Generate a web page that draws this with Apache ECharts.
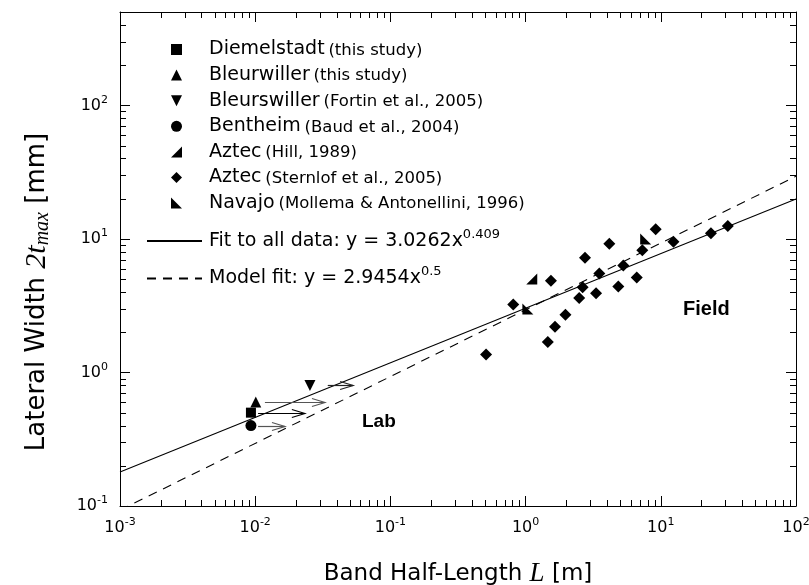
<!DOCTYPE html>
<html>
<head>
<meta charset="utf-8">
<script src="https://cdn.jsdelivr.net/npm/echarts@6/dist/echarts.min.js"></script>
<style>
  html, body { margin: 0; padding: 0; background: #fff; }
  #chart { width: 809px; height: 585px; }
</style>
</head>
<body>
<div id="chart"></div>
<script>
// Axis ranges (log-log)
const xRange = [0.001, 100];
const yRange = [0.1, 500];

// Laboratory specimens: [L (m), 2t_max (mm)]
const diemelstadt = [[0.0093, 0.50]];
const bleurwiller = [[0.0101, 0.60]];
const bleurswiller = [[0.0254, 0.80]];
const bentheim = [[0.0093, 0.40]];

// Lower-bound arrows for lab lengths: [L start, L end, 2t_max, shade]
const labArrows = [
  [0.0105, 0.0233, 0.50, '#000000'],
  [0.0118, 0.0328, 0.60, '#555555'],
  [0.0344, 0.0530, 0.80, '#222222'],
  [0.0105, 0.0166, 0.40, '#555555']
];

// Field observations
const aztecHill = [[1.11, 5.0]];
const aztecSternlof = [
  [0.51, 1.36], [0.81, 3.22], [1.54, 4.87], [1.46, 1.69], [1.65, 2.20],
  [1.97, 2.70], [2.49, 3.61], [2.64, 4.34], [2.75, 7.21], [3.32, 3.91],
  [3.51, 5.50], [4.16, 9.19], [4.85, 4.40], [5.28, 6.31], [6.64, 5.13],
  [7.30, 8.23], [9.17, 11.8], [12.4, 9.51], [23.5, 11.0], [31.3, 12.5]
];
const navajo = [[1.04, 2.99], [7.73, 10.0]];

// Power-law fits, end points across the x range
const fitAll = [[0.001, 0.1795], [100, 19.90]];
const modelFit = [[0.001, 0.0931], [100, 29.45]];

// Log minor tick positions
const xMinorTicks = [];
for (let e = -3; e < 2; e++) for (let m = 2; m <= 9; m++) xMinorTicks.push(m * Math.pow(10, e));
const yMinorTicks = [];
for (let e = -1; e < 3; e++) for (let m = 2; m <= 9; m++) {
  const v = m * Math.pow(10, e);
  if (v < yRange[1]) yMinorTicks.push(v);
}

// Legend names and text
const seriesNames = [
  'Diemelstadt (this study)',
  'Bleurwiller (this study)',
  'Bleurswiller (Fortin et al., 2005)',
  'Bentheim (Baud et al., 2004)',
  'Aztec (Hill, 1989)',
  'Aztec (Sternlof et al., 2005)',
  'Navajo (Mollema & Antonellini, 1996)'
];
const fitNames = ['Fit to all data', 'Model fit'];
const fitLabels = {
  'Fit to all data': ['Fit to all data: y = 3.0262x', '0.409'],
  'Model fit': ['Model fit: y = 2.9454x', '0.5']
};

const FONT = 'DejaVu Sans';
const SERIF = 'Liberation Serif';

// Marker shapes
const SYM_SQUARE = 'path://M0,0 L10,0 L10,10 L0,10 Z';
const SYM_UP = 'path://M5,0 L10,10 L0,10 Z';
const SYM_DOWN = 'path://M0,0 L10,0 L5,10 Z';
const SYM_DIAMOND = 'path://M5,0 L10,5 L5,10 L0,5 Z';
const SYM_HILL = 'path://M0,10 L10,0 L10,10 Z';
const SYM_NAVAJO = 'path://M0,0 L10,10 L0,10 Z';

const chart = echarts.init(document.getElementById('chart'), null, { renderer: 'canvas' });

function powLabel(v) {
  const e = Math.log10(v);
  const r = Math.round(e);
  if (Math.abs(e - r) > 1e-6) return '';
  return '{b|10}{s|' + r + '}';
}
const tickRich = {
  b: { fontFamily: FONT, fontSize: 16, lineHeight: 22, color: '#000' },
  s: { fontFamily: FONT, fontSize: 11, lineHeight: 11, verticalAlign: 'top', color: '#000' }
};

const baseAxis = {
  type: 'log',
  logBase: 10,
  axisLine: { show: true, onZero: false, lineStyle: { color: '#000', width: 1 } },
  axisTick: { show: true, inside: true, length: 10, lineStyle: { color: '#000', width: 1 } },
  splitLine: { show: false },
  minorTick: { show: false }
};

function minorTickRender(params, api) {
  const v = api.value(0);
  const kind = api.value(1);
  const len = 6;
  const style = { stroke: '#000', lineWidth: 1 };
  if (kind === 0) {
    const b = api.coord([v, yRange[0]]);
    const t = api.coord([v, yRange[1]]);
    const x = Math.round(b[0]) + 0.5;
    return { type: 'group', children: [
      { type: 'line', shape: { x1: x, y1: b[1], x2: x, y2: b[1] - len }, style },
      { type: 'line', shape: { x1: x, y1: t[1], x2: x, y2: t[1] + len }, style }
    ] };
  }
  const l = api.coord([xRange[0], v]);
  const r = api.coord([xRange[1], v]);
  const y = Math.round(l[1]) + 0.5;
  return { type: 'group', children: [
    { type: 'line', shape: { x1: l[0], y1: y, x2: l[0] + len, y2: y }, style },
    { type: 'line', shape: { x1: r[0], y1: y, x2: r[0] - len, y2: y }, style }
  ] };
}

function arrowRender(params, api) {
  const p0 = api.coord([api.value(0), api.value(2)]);
  const p1 = api.coord([api.value(1), api.value(2)]);
  const color = labArrows[params.dataIndex][3];
  const y = Math.round(p0[1]) + 0.5;
  const style = { stroke: color, lineWidth: 1.2, fill: null };
  return { type: 'group', children: [
    { type: 'line', shape: { x1: p0[0], y1: y, x2: p1[0], y2: y }, style },
    { type: 'polyline', shape: { points: [[p1[0] - 13, y - 4], [p1[0], y], [p1[0] - 13, y + 4]] }, style }
  ] };
}

const scatterBase = {
  type: 'scatter',
  itemStyle: { color: '#000', opacity: 1 },
  symbolKeepAspect: true,
  z: 5,
  emphasis: { disabled: true }
};

const option = {
  animation: false,
  backgroundColor: '#fff',
  textStyle: { fontFamily: FONT, color: '#000' },
  grid: { left: 120, right: 13, top: 12, bottom: 79, outerBoundsMode: 'none', containLabel: false },
  xAxis: [
    Object.assign({}, baseAxis, {
      min: xRange[0], max: xRange[1], position: 'bottom',
      axisLabel: { margin: 11, formatter: powLabel, rich: tickRich, showMaxLabel: true, hideOverlap: false },
      name: '{n|Band Half-Length }{i|L}{n| [m]}',
      nameLocation: 'middle',
      nameGap: 53,
      nameTextStyle: {
        rich: {
          n: { fontFamily: FONT, fontSize: 23, color: '#000', lineHeight: 30 },
          i: { fontFamily: SERIF, fontStyle: 'italic', fontSize: 27, color: '#000', lineHeight: 30 }
        }
      }
    }),
    Object.assign({}, baseAxis, {
      min: xRange[0], max: xRange[1], position: 'top',
      axisLabel: { show: false }
    })
  ],
  yAxis: [
    Object.assign({}, baseAxis, {
      min: yRange[0], max: yRange[1], position: 'left',
      axisLabel: { margin: 12, formatter: powLabel, rich: tickRich, showMaxLabel: false },
      name: '{n|Lateral Width }{i|2t}{m|max}{n| [mm]}',
      nameLocation: 'middle',
      nameGap: 67,
      nameTextStyle: {
        padding: [0, 66, 0, 0],
        rich: {
          n: { fontFamily: FONT, fontSize: 26, color: '#000', lineHeight: 32 },
          i: { fontFamily: SERIF, fontStyle: 'italic', fontSize: 30, color: '#000', lineHeight: 32 },
          m: { fontFamily: SERIF, fontStyle: 'italic', fontSize: 20, color: '#000', lineHeight: 18, verticalAlign: 'bottom' }
        }
      }
    }),
    Object.assign({}, baseAxis, {
      min: yRange[0], max: yRange[1], position: 'right',
      axisLabel: { show: false }
    })
  ],
  legend: [
    {
      data: seriesNames,
      orient: 'vertical',
      left: 171,
      top: 40,
      padding: 0,
      itemWidth: 11,
      itemHeight: 11,
      itemGap: 6.6,
      selectedMode: false,
      formatter: function (name) {
        const i = name.indexOf(' (');
        return '{a|' + name.slice(0, i) + '} {c|' + name.slice(i + 1) + '}';
      },
      textStyle: {
        padding: [0, 0, 0, 22],
        rich: {
          a: { fontFamily: FONT, fontSize: 19, lineHeight: 22, color: '#000' },
          c: { fontFamily: FONT, fontSize: 16.5, lineHeight: 22, color: '#000', padding: [2, 0, 0, 0] }
        }
      }
    },
    {
      data: fitNames,
      orient: 'vertical',
      left: 146,
      top: 228,
      padding: 0,
      itemWidth: 55,
      itemHeight: 12,
      itemGap: 15,
      selectedMode: false,
      itemStyle: { opacity: 0 },
      formatter: function (name) {
        const t = fitLabels[name];
        return '{a|' + t[0] + '}{s|' + t[1] + '}';
      },
      textStyle: {
        padding: [0, 0, 0, 2],
        rich: {
          a: { fontFamily: FONT, fontSize: 19, lineHeight: 26, color: '#000' },
          s: { fontFamily: FONT, fontSize: 13, lineHeight: 12, verticalAlign: 'top', color: '#000' }
        }
      }
    }
  ],
  graphic: [
    { type: 'text', left: 362, top: 412, style: { text: 'Lab', fontFamily: 'Liberation Sans', fontWeight: 'bold', fontSize: 19, fill: '#000' } },
    { type: 'text', left: 683, top: 299, style: { text: 'Field', fontFamily: 'Liberation Sans', fontWeight: 'bold', fontSize: 20, fill: '#000' } }
  ],
  series: [
    {
      name: 'Fit to all data', type: 'line', data: fitAll, symbol: 'none', showSymbol: false,
      lineStyle: { color: '#000', width: 1.1, type: 'solid' }, itemStyle: { color: '#000' },
      silent: true, z: 3, clip: true
    },
    {
      name: 'Model fit', type: 'line', data: modelFit, symbol: 'none', showSymbol: false,
      lineStyle: { color: '#000', width: 1.1, type: [9, 7] }, itemStyle: { color: '#000' },
      silent: true, z: 3, clip: true
    },
    {
      type: 'custom', name: 'lab arrows', renderItem: arrowRender, clip: false, silent: true, z: 4,
      data: labArrows.map(a => [a[0], a[1], a[2]])
    },
    Object.assign({}, scatterBase, { name: seriesNames[0], data: diemelstadt, symbol: SYM_SQUARE, symbolSize: 10 }),
    Object.assign({}, scatterBase, { name: seriesNames[1], data: bleurwiller, symbol: SYM_UP, symbolSize: 11 }),
    Object.assign({}, scatterBase, { name: seriesNames[2], data: bleurswiller, symbol: SYM_DOWN, symbolSize: 11 }),
    Object.assign({}, scatterBase, { name: seriesNames[3], data: bentheim, symbol: 'circle', symbolSize: 11 }),
    Object.assign({}, scatterBase, { name: seriesNames[4], data: aztecHill, symbol: SYM_HILL, symbolSize: 11 }),
    Object.assign({}, scatterBase, { name: seriesNames[5], data: aztecSternlof, symbol: SYM_DIAMOND, symbolSize: 12 }),
    Object.assign({}, scatterBase, { name: seriesNames[6], data: navajo, symbol: SYM_NAVAJO, symbolSize: 11 }),
    {
      type: 'custom', name: 'minor ticks', renderItem: minorTickRender, clip: false, silent: true, z: 2,
      data: xMinorTicks.map(v => [v, 0]).concat(yMinorTicks.map(v => [v, 1]))
    }
  ]
};

chart.setOption(option);
</script>
</body>
</html>
